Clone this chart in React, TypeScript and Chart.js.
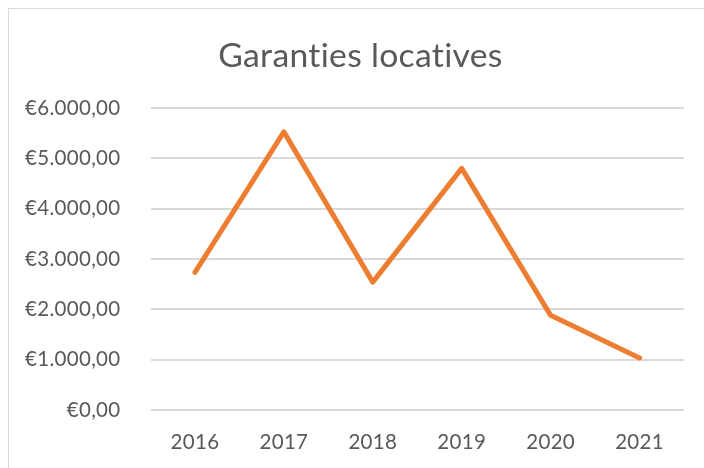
import React, { useEffect, useRef } from "react";
import { Chart, registerables } from "chart.js";

Chart.register(...registerables);

const years = ["2016", "2017", "2018", "2019", "2020", "2021"];
const garanties = [2735, 5525, 2540, 4800, 1880, 1035];
const chartTitle = "Garanties locatives";

const fmt = (v: number) =>
  "€" +
  Math.round(v)
    .toString()
    .replace(/\B(?=(\d{3})+(?!\d))/g, ".") +
  ",00";

const tweaks = {
  id: "tweaks",
  afterLayout(chart: any) {
    const t = chart.titleBlock;
    if (t) {
      t.left += 14;
      t.right += 14;
    }
  },
  beforeDraw(chart: any) {
    try {
      chart.ctx.letterSpacing = "0.3px";
    } catch (e) {}
  },
};

export default function App() {
  const ref = useRef<HTMLCanvasElement | null>(null);
  useEffect(() => {
    if (!ref.current) return;
    const font = "Lato";
    const chart = new Chart(ref.current, {
      type: "line",
      data: {
        labels: years,
        datasets: [
          {
            data: garanties,
            borderColor: "#ED7D31",
            backgroundColor: "#ED7D31",
            borderWidth: 5,
            pointRadius: 0,
            tension: 0,
            borderCapStyle: "round",
            borderJoinStyle: "round",
          },
        ],
      },
      plugins: [tweaks],
      options: {
        animation: false,
        responsive: false,
        layout: { padding: { left: 0, right: 28, top: 0, bottom: 0 } },
        plugins: {
          legend: { display: false },
          tooltip: { enabled: false },
          title: {
            display: true,
            text: chartTitle,
            color: "#595959",
            font: { family: font, size: 33.7, weight: "normal" },
            padding: { top: 27, bottom: 31.5 },
          },
        },
        scales: {
          x: {
            offset: true,
            grid: { display: false, drawTicks: false },
            border: { display: false },
            ticks: {
              color: "#595959",
              font: { family: font, size: 20.5 },
              padding: 20,
              maxRotation: 0,
            },
            afterFit: (s: any) => {
              s.height = 58;
            },
          },
          y: {
            min: 0,
            max: 6000,
            ticks: {
              stepSize: 1000,
              color: "#595959",
              font: { family: font, size: 20.5 },
              padding: 30,
              callback: (v: any) => fmt(Number(v)),
            },
            grid: { color: "#D9D9D9", lineWidth: 2, drawTicks: false },
            border: { display: false },
            afterFit: (s: any) => {
              s.width = 141.5;
            },
          },
        },
      },
    });
    return () => chart.destroy();
  }, []);
  return (
    <div
      style={{
        position: "fixed",
        left: 8,
        top: 8,
        width: 704,
        height: 460,
        borderLeft: "1px solid #D9D9D9",
        borderTop: "1px solid #D9D9D9",
        background: "#fff",
      }}
    >
      <canvas ref={ref} width={703} height={459} style={{ display: "block" }} />
    </div>
  );
}
